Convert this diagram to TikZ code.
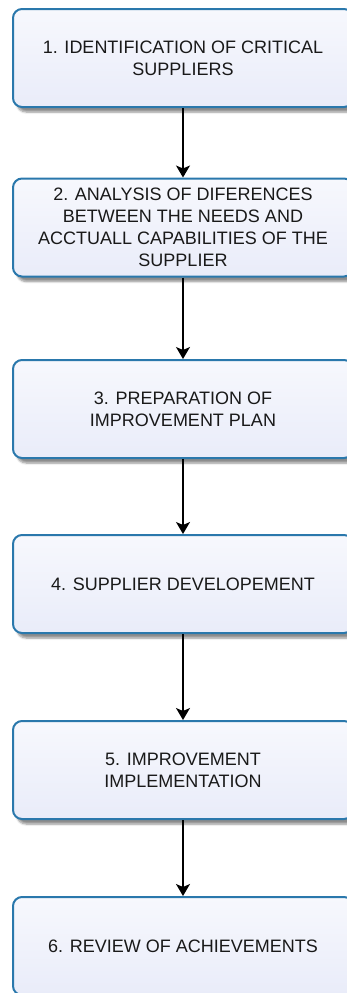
\documentclass[tikz,border=0pt]{standalone}
\usepackage{fontspec}
\setmainfont{Liberation Sans}
\usetikzlibrary{arrows.meta,shadows.blur}

\definecolor{stepedge}{HTML}{2A78AC}
\definecolor{steptop}{HTML}{F7F8FD}
\definecolor{stepbottom}{HTML}{E9ECF9}

\tikzset{
  stepbox/.style = {draw = stepedge, line width = 2pt, rounded corners = 9pt,
    top color = steptop, bottom color = stepbottom,
    minimum width = 340pt, minimum height = 98pt, align = center,
    text = black!90, font = \fontsize{18}{22}\selectfont,
    blur shadow = {shadow xshift = 4pt, shadow yshift = -5pt, shadow opacity = 45, shadow blur steps = 6}},
  flow/.style = {-{Stealth[length = 12pt, width = 14pt, inset = 3pt]}, line width = 1.2pt}
}

\begin{document}
\begin{tikzpicture}[x = 1pt, y = 1pt]
    \useasboundingbox (0, 0) rectangle (346, -993);
    \node[stepbox] (identification) at (183, -58) {1. IDENTIFICATION OF CRITICAL \\ SUPPLIERS};
    \node[stepbox] (analysis) at (183, -227.5) {2. ANALYSIS OF DIFERENCES \\ BETWEEN THE NEEDS AND \\ ACCTUALL CAPABILITIES OF THE \\ SUPPLIER};
    \node[stepbox] (preparation) at (183, -409) {3. PREPARATION OF \\ IMPROVEMENT PLAN};
    \node[stepbox] (development) at (183, -584) {4. SUPPLIER DEVELOPEMENT};
    \node[stepbox] (implementation) at (183, -770) {5. IMPROVEMENT \\ IMPLEMENTATION};
    \node[stepbox] (review) at (183, -946) {6. REVIEW OF ACHIEVEMENTS};
    \draw[flow] (identification) -- (analysis);
    \draw[flow] (analysis) -- (preparation);
    \draw[flow] (preparation) -- (development);
    \draw[flow] (development) -- (implementation);
    \draw[flow] (implementation) -- (review);
  \end{tikzpicture}
\end{document}
